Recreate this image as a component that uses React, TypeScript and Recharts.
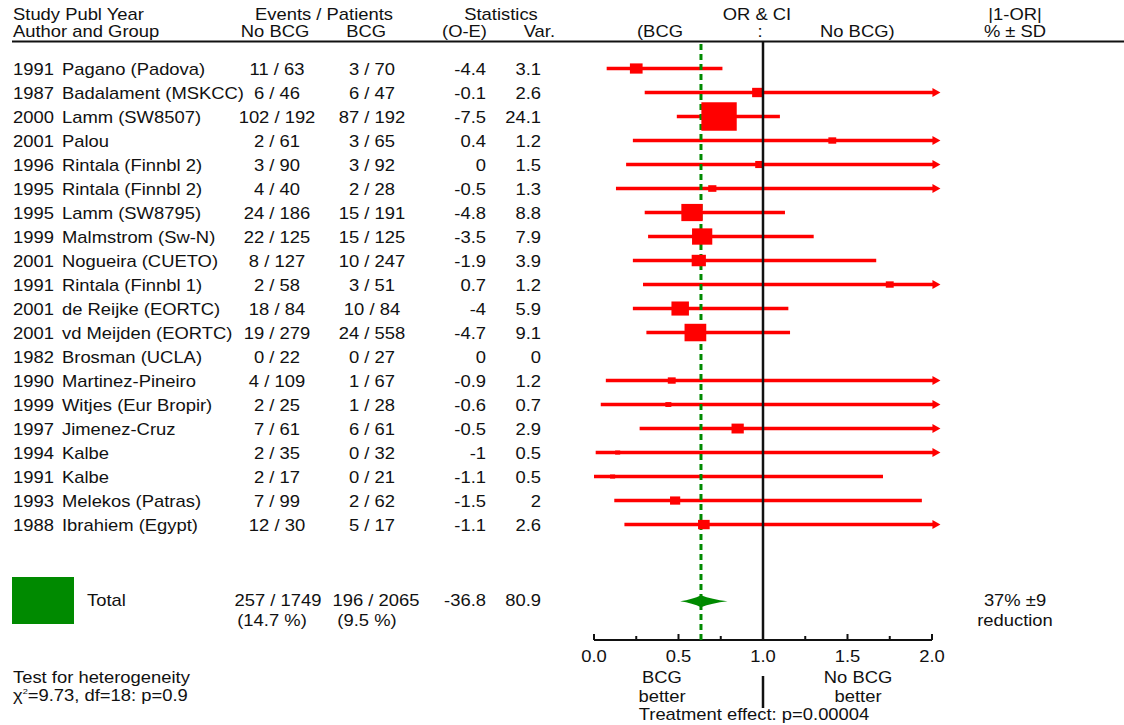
import React from 'react'
import {
  ComposedChart, XAxis, YAxis, Scatter, ReferenceLine, ReferenceArea,
} from 'recharts'

// one entry per trial, top to bottom
const years = [1991, 1987, 2000, 2001, 1996, 1995, 1995, 1999, 2001, 1991, 2001, 2001, 1982, 1990, 1999, 1997, 1994, 1991, 1993, 1988]
const authors = [
  'Pagano (Padova)', 'Badalament (MSKCC)', 'Lamm (SW8507)', 'Palou', 'Rintala (Finnbl 2)',
  'Rintala (Finnbl 2)', 'Lamm (SW8795)', 'Malmstrom (Sw-N)', 'Nogueira (CUETO)', 'Rintala (Finnbl 1)',
  'de Reijke (EORTC)', 'vd Meijden (EORTC)', 'Brosman (UCLA)', 'Martinez-Pineiro', 'Witjes (Eur Bropir)',
  'Jimenez-Cruz', 'Kalbe', 'Kalbe', 'Melekos (Patras)', 'Ibrahiem (Egypt)',
]
const noBcgEvents = [11, 6, 102, 2, 3, 4, 24, 22, 8, 2, 18, 19, 0, 4, 2, 7, 2, 2, 7, 12]
const noBcgPatients = [63, 46, 192, 61, 90, 40, 186, 125, 127, 58, 84, 279, 22, 109, 25, 61, 35, 17, 99, 30]
const bcgEvents = [3, 6, 87, 3, 3, 2, 15, 15, 10, 3, 10, 24, 0, 1, 1, 6, 0, 0, 2, 5]
const bcgPatients = [70, 47, 192, 65, 92, 28, 191, 125, 247, 51, 84, 558, 27, 67, 28, 61, 32, 21, 62, 17]
const oMinusE = [-4.4, -0.1, -7.5, 0.4, 0, -0.5, -4.8, -3.5, -1.9, 0.7, -4, -4.7, 0, -0.9, -0.6, -0.5, -1, -1.1, -1.5, -1.1]
const variances = [3.1, 2.6, 24.1, 1.2, 1.5, 1.3, 8.8, 7.9, 3.9, 1.2, 5.9, 9.1, 0, 1.2, 0.7, 2.9, 0.5, 0.5, 2, 2.6]
const oddsRatios = [0.25, 0.97, 0.74, 1.41, 0.98, 0.7, 0.58, 0.64, 0.62, 1.75, 0.51, 0.6, null, 0.46, 0.44, 0.85, 0.14, 0.11, 0.48, 0.65]
const ciLow = [0.075, 0.3, 0.49, 0.23, 0.19, 0.13, 0.3, 0.32, 0.23, 0.29, 0.23, 0.31, null, 0.07, 0.04, 0.27, 0.01, 0, 0.12, 0.18]
// null = runs off the right of the scale (drawn with an arrow)
const ciHigh = [0.76, null, 1.1, null, null, null, 1.13, 1.3, 1.67, null, 1.15, 1.16, null, null, null, null, null, 1.71, 1.94, null]

const totalNoBcg = [257, 1749]
const totalBcg = [196, 2065]
const totalPct = ['14.7', '9.5']
const totalStats = [-36.8, 80.9]
const totalOr = 0.633
const totalCi = [0.51, 0.79]
const totalReduction = ['37% ±9', 'reduction']

const xTicks = [0, 0.25, 0.5, 0.75, 1, 1.25, 1.5, 1.75, 2]

const X_MAX = 2.05 // arrow tips
const LINE_END = 2.02
const Y_TOP = -0.146
const Y_BOTTOM = 24.81
const TOTAL_ROW = 23.2

const FONT = "'Liberation Sans', Arial, Helvetica, sans-serif"
const SX = 1.15
const INK = '#111'
const RED = '#ff0000'
const GREEN = '#008a00'

const rowNos = years.map((_, i) => i + 1)

const boxes = rowNos
  .filter((_, i) => oddsRatios[i] != null)
  .map((r) => ({ x: oddsRatios[r - 1], y: r, v: variances[r - 1] }))
const arrows = rowNos
  .filter((_, i) => oddsRatios[i] != null && ciHigh[i] == null)
  .map((r) => ({ x: X_MAX, y: r }))

function T({ x, y, anchor = 'start', children }: any) {
  return (
    <text
      transform={`translate(${x},${y}) scale(${SX},1)`}
      textAnchor={anchor}
      fontFamily={FONT}
      fontSize={16}
      fill={INK}
    >
      {children}
    </text>
  )
}

function RowTick(props: any) {
  const { y, payload } = props
  const v = payload.value
  if (v === TOTAL_ROW) {
    const b = y + 5
    return (
      <g>
        <T x={87} y={b}>Total</T>
        <T x={278} y={b} anchor="middle">{`${totalNoBcg[0]} / ${totalNoBcg[1]}`}</T>
        <T x={376} y={b} anchor="middle">{`${totalBcg[0]} / ${totalBcg[1]}`}</T>
        <T x={486} y={b} anchor="end">{String(totalStats[0])}</T>
        <T x={541} y={b} anchor="end">{String(totalStats[1])}</T>
        <T x={272} y={b + 20} anchor="middle">{`(${totalPct[0]} %)`}</T>
        <T x={367} y={b + 20} anchor="middle">{`(${totalPct[1]} %)`}</T>
        <T x={1015} y={b} anchor="middle">{totalReduction[0]}</T>
        <T x={1015} y={b + 20} anchor="middle">{totalReduction[1]}</T>
      </g>
    )
  }
  const i = v - 1
  const b = y + 6
  return (
    <g>
      <T x={13} y={b}>{years[i]}</T>
      <T x={62} y={b}>{authors[i]}</T>
      <T x={277} y={b} anchor="middle">{`${noBcgEvents[i]} / ${noBcgPatients[i]}`}</T>
      <T x={372} y={b} anchor="middle">{`${bcgEvents[i]} / ${bcgPatients[i]}`}</T>
      <T x={486} y={b} anchor="end">{String(oMinusE[i])}</T>
      <T x={541} y={b} anchor="end">{String(variances[i])}</T>
    </g>
  )
}

function AxisTick(props: any) {
  const { x, y, payload } = props
  const v = payload.value
  const major = Math.abs(v * 2 - Math.round(v * 2)) < 1e-6
  return (
    <g>
      <line x1={x} x2={x} y1={y} y2={y - (major ? 6 : 4)} stroke={INK} strokeWidth={2} />
      {major && <T x={x} y={y + 22} anchor="middle">{v.toFixed(1)}</T>}
      {v === 1 && <line x1={x} x2={x} y1={y + 36} y2={y + 68} stroke={INK} strokeWidth={2.5} />}
    </g>
  )
}

function BoxShape(props: any) {
  const { cx, cy, payload } = props
  const s = Math.sqrt(payload.v)
  const w = 7.2 * s
  const h = 5.8 * s
  return <rect x={cx - w / 2} y={cy - h / 2} width={w} height={h} fill={RED} />
}

function ArrowShape(props: any) {
  const { cx, cy } = props
  return <polygon points={`${cx},${cy} ${cx - 8},${cy - 4.5} ${cx - 8},${cy + 4.5}`} fill={RED} />
}

function DiamondLeft(props: any) {
  const { x, y, width: w, height: h } = props
  const c = y + h / 2
  return (
    <path
      d={`M${x},${c} Q${x + w * 0.6},${c - h * 0.15} ${x + w},${y} L${x + w},${y + h} Q${x + w * 0.6},${c + h * 0.15} ${x},${c} Z`}
      fill={GREEN}
    />
  )
}

function DiamondRight(props: any) {
  const { x, y, width: w, height: h } = props
  const c = y + h / 2
  return (
    <path
      d={`M${x + w},${c} Q${x + w * 0.4},${c - h * 0.15} ${x},${y} L${x},${y + h} Q${x + w * 0.4},${c + h * 0.15} ${x + w},${c} Z`}
      fill={GREEN}
    />
  )
}

export default function App() {
  return (
    <div style={{ position: 'absolute', left: 0, top: 0, background: '#fff' }}>
      <ComposedChart
        width={1124}
        height={725}
        margin={{ top: 41, right: 183.55, bottom: 0, left: 0 }}
      >
        <XAxis
          type="number"
          dataKey="x"
          domain={[0, X_MAX]}
          ticks={xTicks}
          interval={0}
          height={85}
          axisLine={false}
          tickLine={false}
          tickSize={0}
          tickMargin={0}
          tick={(p: any) => <AxisTick {...p} />}
        />
        <YAxis
          type="number"
          dataKey="y"
          domain={[Y_TOP, Y_BOTTOM]}
          reversed
          ticks={[...rowNos, TOTAL_ROW]}
          interval={0}
          width={594}
          axisLine={false}
          tickLine={false}
          tick={(p: any) => <RowTick {...p} />}
        />

        {rowNos.map((r, i) =>
          oddsRatios[i] == null ? null : (
            <ReferenceLine
              key={`ci${r}`}
              segment={[{ x: ciLow[i], y: r }, { x: ciHigh[i] ?? LINE_END, y: r }]}
              stroke={RED}
              strokeWidth={3.5}
              zIndex={100}
            />
          ),
        )}
        <ReferenceLine
          segment={[{ x: 0, y: Y_BOTTOM }, { x: 2, y: Y_BOTTOM }]}
          stroke={INK}
          strokeWidth={2}
          zIndex={100}
        />
        <ReferenceLine x={totalOr} stroke={GREEN} strokeWidth={3} strokeDasharray="6 4" zIndex={150} />

        <Scatter data={boxes} shape={BoxShape} isAnimationActive={false} zIndex={200} />
        <Scatter data={arrows} shape={ArrowShape} isAnimationActive={false} zIndex={200} />

        <ReferenceArea
          x1={totalCi[0]} x2={totalOr} y1={TOTAL_ROW - 0.25} y2={TOTAL_ROW + 0.25}
          shape={DiamondLeft} zIndex={200}
        />
        <ReferenceArea
          x1={totalOr} x2={totalCi[1]} y1={TOTAL_ROW - 0.25} y2={TOTAL_ROW + 0.25}
          shape={DiamondRight} zIndex={200}
        />

        <ReferenceLine x={1} stroke={INK} strokeWidth={2.5} zIndex={250} />

        <g>
          <T x={13} y={20}>Study Publ Year</T>
          <T x={13} y={37}>Author and Group</T>
          <T x={324} y={20} anchor="middle">Events / Patients</T>
          <T x={275} y={37} anchor="middle">No BCG</T>
          <T x={386} y={37} anchor="end">BCG</T>
          <T x={501} y={20} anchor="middle">Statistics</T>
          <T x={487} y={37} anchor="end">(O-E)</T>
          <T x={555} y={37} anchor="end">Var.</T>
          <T x={757} y={20} anchor="middle">OR &amp; CI</T>
          <T x={637} y={37}>(BCG</T>
          <T x={760} y={37} anchor="middle">:</T>
          <T x={820} y={37}>No BCG)</T>
          <T x={1015} y={20} anchor="middle">|1-OR|</T>
          <T x={1015} y={37} anchor="middle">% ± SD</T>
          <line x1={12} x2={1124} y1={41.5} y2={41.5} stroke={INK} strokeWidth={2} />

          <rect x={12} y={577} width={62} height={47} fill={GREEN} />

          <T x={13} y={683}>Test for heterogeneity</T>
          <text
            transform={`translate(13,701) scale(${SX},1)`}
            fontFamily={FONT}
            fontSize={16}
            fill={INK}
          >
            χ<tspan dy={-7} fontSize={8}>2</tspan>
            <tspan dy={7}>=9.73, df=18: p=0.9</tspan>
          </text>

          <T x={662} y={683} anchor="middle">BCG</T>
          <T x={662} y={702} anchor="middle">better</T>
          <T x={858} y={683} anchor="middle">No BCG</T>
          <T x={858} y={702} anchor="middle">better</T>
          <T x={754} y={720} anchor="middle">Treatment effect: p=0.00004</T>
        </g>
      </ComposedChart>
    </div>
  )
}
